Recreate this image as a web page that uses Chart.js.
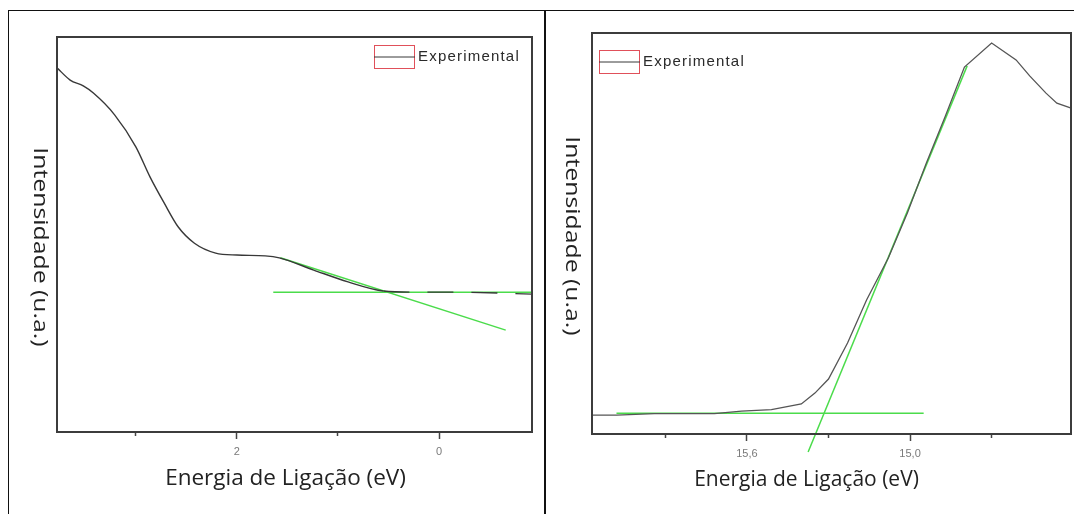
<!DOCTYPE html>
<html lang="pt">
<head>
<meta charset="utf-8">
<title>Energia de Ligação</title>
<script src="https://cdn.jsdelivr.net/npm/chart.js@4.4.1/dist/chart.umd.min.js"></script>
<style>
  html, body { margin: 0; padding: 0; background: #fff; }
  #page { position: relative; width: 1074px; height: 514px; overflow: hidden; }
  .panel { position: absolute; top: 0; height: 514px; }
  #frame { position: absolute; left: 8px; top: 10px; width: 1090px; height: 530px;
           border: 1.5px solid #111; box-sizing: border-box; pointer-events: none; }
  #divider { position: absolute; left: 544px; top: 10px; width: 2px; height: 520px;
             background: #111; pointer-events: none; }
</style>
</head>
<body>
<div id="page">
  <div class="panel" style="left:0;width:546px"><canvas id="chart-vb"></canvas></div>
  <div class="panel" style="left:546px;width:528px"><canvas id="chart-cutoff"></canvas></div>
  <div id="frame"></div>
  <div id="divider"></div>
</div>

<script>
// ── Valence band edge (left panel) ─────────────────────────────────────────
const vbEnergy    = [3.78, 3.65, 3.52, 3.42, 3.21, 3.00, 2.86, 2.72, 2.58, 2.42, 2.21, 2.00, 1.72, 1.58, 1.24, 0.90, 0.55, 0.21, -0.14, -0.92];
const vbIntensity = [92.2, 89.1, 87.6, 85.8, 80.3, 72.2, 64.6, 58.0, 51.9, 47.8, 45.3, 44.8, 44.6, 44.1, 41.0, 38.0, 35.7, 35.4, 35.4, 34.9];
// linear fits: baseline and leading edge
const vbBaseE  = [1.64, -0.92];
const vbBaseI  = [35.4, 35.4];
const vbEdgeE  = [1.57, -0.66];
const vbEdgeI  = [44.1, 25.8];

// ── Secondary electron cutoff (right panel) ────────────────────────────────
const seEnergy    = [16.17, 16.08, 15.94, 15.72, 15.62, 15.51, 15.40, 15.35, 15.30, 15.23, 15.16, 15.08, 15.01, 14.94, 14.87, 14.80, 14.70, 14.61, 14.56, 14.50, 14.46, 14.41];
const seIntensity = [4.7, 4.7, 5.1, 5.1, 5.7, 6.1, 7.5, 10.2, 13.7, 22.7, 33.4, 43.9, 55.1, 67.6, 79.3, 91.5, 97.5, 93.3, 89.3, 85.0, 82.5, 81.3];
const seBaseE  = [16.08, 14.95];
const seBaseI  = [5.2, 5.2];
const seEdgeE  = [15.375, 14.79];
const seEdgeI  = [-4.5, 91.8];

const SERIES_LABEL = "Experimental";
const X_TITLE = "Energia de Ligação (eV)";
const Y_TITLE = "Intensidade (u.a.)";

const C = {
  curve: "#383838",
  fit:   "#4bdc4b",
  frame: "#3c3c3c",
  tick:  "#7a7a7a",
  title: "#222",
  key:   "#e0505a",
};

const pts = (xs, ys) => xs.map((x, i) => ({ x, y: ys[i] }));

// Box around the plot area
const boxFrame = {
  id: "boxFrame",
  afterDatasetsDraw(chart) {
    const { ctx, chartArea: a } = chart;
    ctx.save();
    ctx.strokeStyle = C.frame;
    ctx.lineWidth = 2;
    ctx.strokeRect(a.left, a.top, a.right - a.left, a.bottom - a.top);
    ctx.restore();
  },
};

// Origin-style legend key: red box with the line sample across it
const boxLegend = {
  id: "boxLegend",
  afterDraw(chart, args, opts) {
    const { ctx, chartArea: a } = chart;
    const x = a.left + opts.dx, y = a.top + opts.dy;
    ctx.save();
    ctx.strokeStyle = C.key;
    ctx.lineWidth = 1;
    ctx.strokeRect(x + 0.5, y + 0.5, 40, 23);
    ctx.strokeStyle = C.curve;
    ctx.beginPath();
    ctx.moveTo(x, y + 12);
    ctx.lineTo(x + 41, y + 12);
    ctx.stroke();
    ctx.fillStyle = "#2a2a2a";
    ctx.font = '15px "Liberation Sans", Arial, sans-serif';
    ctx.letterSpacing = "1.2px";
    ctx.textBaseline = "middle";
    ctx.fillText(chart.data.datasets[0].label, x + 44, y + 12);
    ctx.restore();
  },
};

// Axis titles; the y title reads top to bottom and is drawn a little stretched
const axisTitles = {
  id: "axisTitles",
  afterDraw(chart, args, opts) {
    const { ctx, chartArea: a } = chart;
    ctx.save();
    ctx.fillStyle = C.title;
    ctx.textAlign = "center";
    ctx.textBaseline = "middle";
    ctx.font = `${opts.xSize}px "Open Sans", sans-serif`;
    ctx.fillText(X_TITLE, (a.left + a.right) / 2 + opts.xShift, opts.xY);
    ctx.font = '20px "Open Sans", sans-serif';
    ctx.translate(opts.yX, opts.yY);
    ctx.rotate(Math.PI / 2);
    ctx.scale(1.24, 1);
    ctx.fillText(Y_TITLE, 0, 0);
    ctx.restore();
  },
};

function xAxis(min, max, step, isMajor, fmt, height) {
  return {
    type: "linear",
    reverse: true,
    min, max,
    afterFit: (scale) => { scale.height = height; },
    border: { display: false },
    grid: {
      drawOnChartArea: false,
      drawTicks: true,
      tickLength: 7,
      tickWidth: 1.5,
      tickColor: "#444",
      tickBorderDash: (ctx) => (ctx.tick && isMajor(ctx.tick.value) ? [] : [4, 20]),
    },
    ticks: {
      stepSize: step,
      includeBounds: false,
      autoSkip: false,
      maxRotation: 0,
      padding: 6,
      color: C.tick,
      font: { family: '"Liberation Sans", Arial, sans-serif', size: 11 },
      callback: (v) => (isMajor(v) ? fmt(v) : ""),
    },
  };
}

const yAxis = { type: "linear", display: false, min: 0, max: 100 };

function lineSet(label, data, color, width, extra = {}) {
  return {
    label, data,
    borderColor: color,
    borderWidth: width,
    pointRadius: 0,
    fill: false,
    ...extra,
  };
}

// ── Left: valence band ─────────────────────────────────────────────────────
new Chart(document.getElementById("chart-vb"), {
  type: "line",
  data: {
    datasets: [
      lineSet(SERIES_LABEL, pts(vbEnergy, vbIntensity), C.curve, 1.4, {
        cubicInterpolationMode: "monotone",
        segment: { borderDash: (s) => (s.p0.parsed.x < 0.62 ? [26, 18] : undefined) },
      }),
      lineSet("base", pts(vbBaseE, vbBaseI), C.fit, 1.5),
      lineSet("edge", pts(vbEdgeE, vbEdgeI), C.fit, 1.5),
    ],
  },
  options: {
    responsive: true,
    maintainAspectRatio: false,
    animation: false,
    layout: { padding: { left: 57, top: 37, right: 14, bottom: 0 } },
    scales: {
      x: xAxis(-0.92, 3.78, 1, (v) => Math.round(v) % 2 === 0, (v) => String(v), 82),
      y: yAxis,
    },
    plugins: {
      legend: { display: false },
      tooltip: { enabled: false },
      boxLegend: { dx: 317, dy: 8 },
      axisTitles: { xSize: 22.5, xShift: -9, xY: 479, yX: 40, yY: 247 },
    },
  },
  plugins: [boxFrame, boxLegend, axisTitles],
});

// ── Right: secondary electron cutoff ───────────────────────────────────────
new Chart(document.getElementById("chart-cutoff"), {
  type: "line",
  data: {
    datasets: [
      lineSet(SERIES_LABEL, pts(seEnergy, seIntensity), "#555", 1.3),
      lineSet("base", pts(seBaseE, seBaseI), C.fit, 1.5),
      lineSet("edge", pts(seEdgeE, seEdgeI), C.fit, 1.5, { clip: false }),
    ],
  },
  options: {
    responsive: true,
    maintainAspectRatio: false,
    animation: false,
    layout: { padding: { left: 46, top: 33, right: 3, bottom: 0 } },
    scales: {
      x: xAxis(14.408, 16.17, 0.3, (v) => Math.round(v * 10) % 6 === 0,
               (v) => v.toFixed(1).replace(".", ","), 80),
      y: yAxis,
    },
    plugins: {
      legend: { display: false },
      tooltip: { enabled: false },
      boxLegend: { dx: 7, dy: 17 },
      axisTitles: { xSize: 21, xShift: -25, xY: 480, yX: 26, yY: 236 },
    },
  },
  plugins: [boxFrame, boxLegend, axisTitles],
});
</script>
</body>
</html>
